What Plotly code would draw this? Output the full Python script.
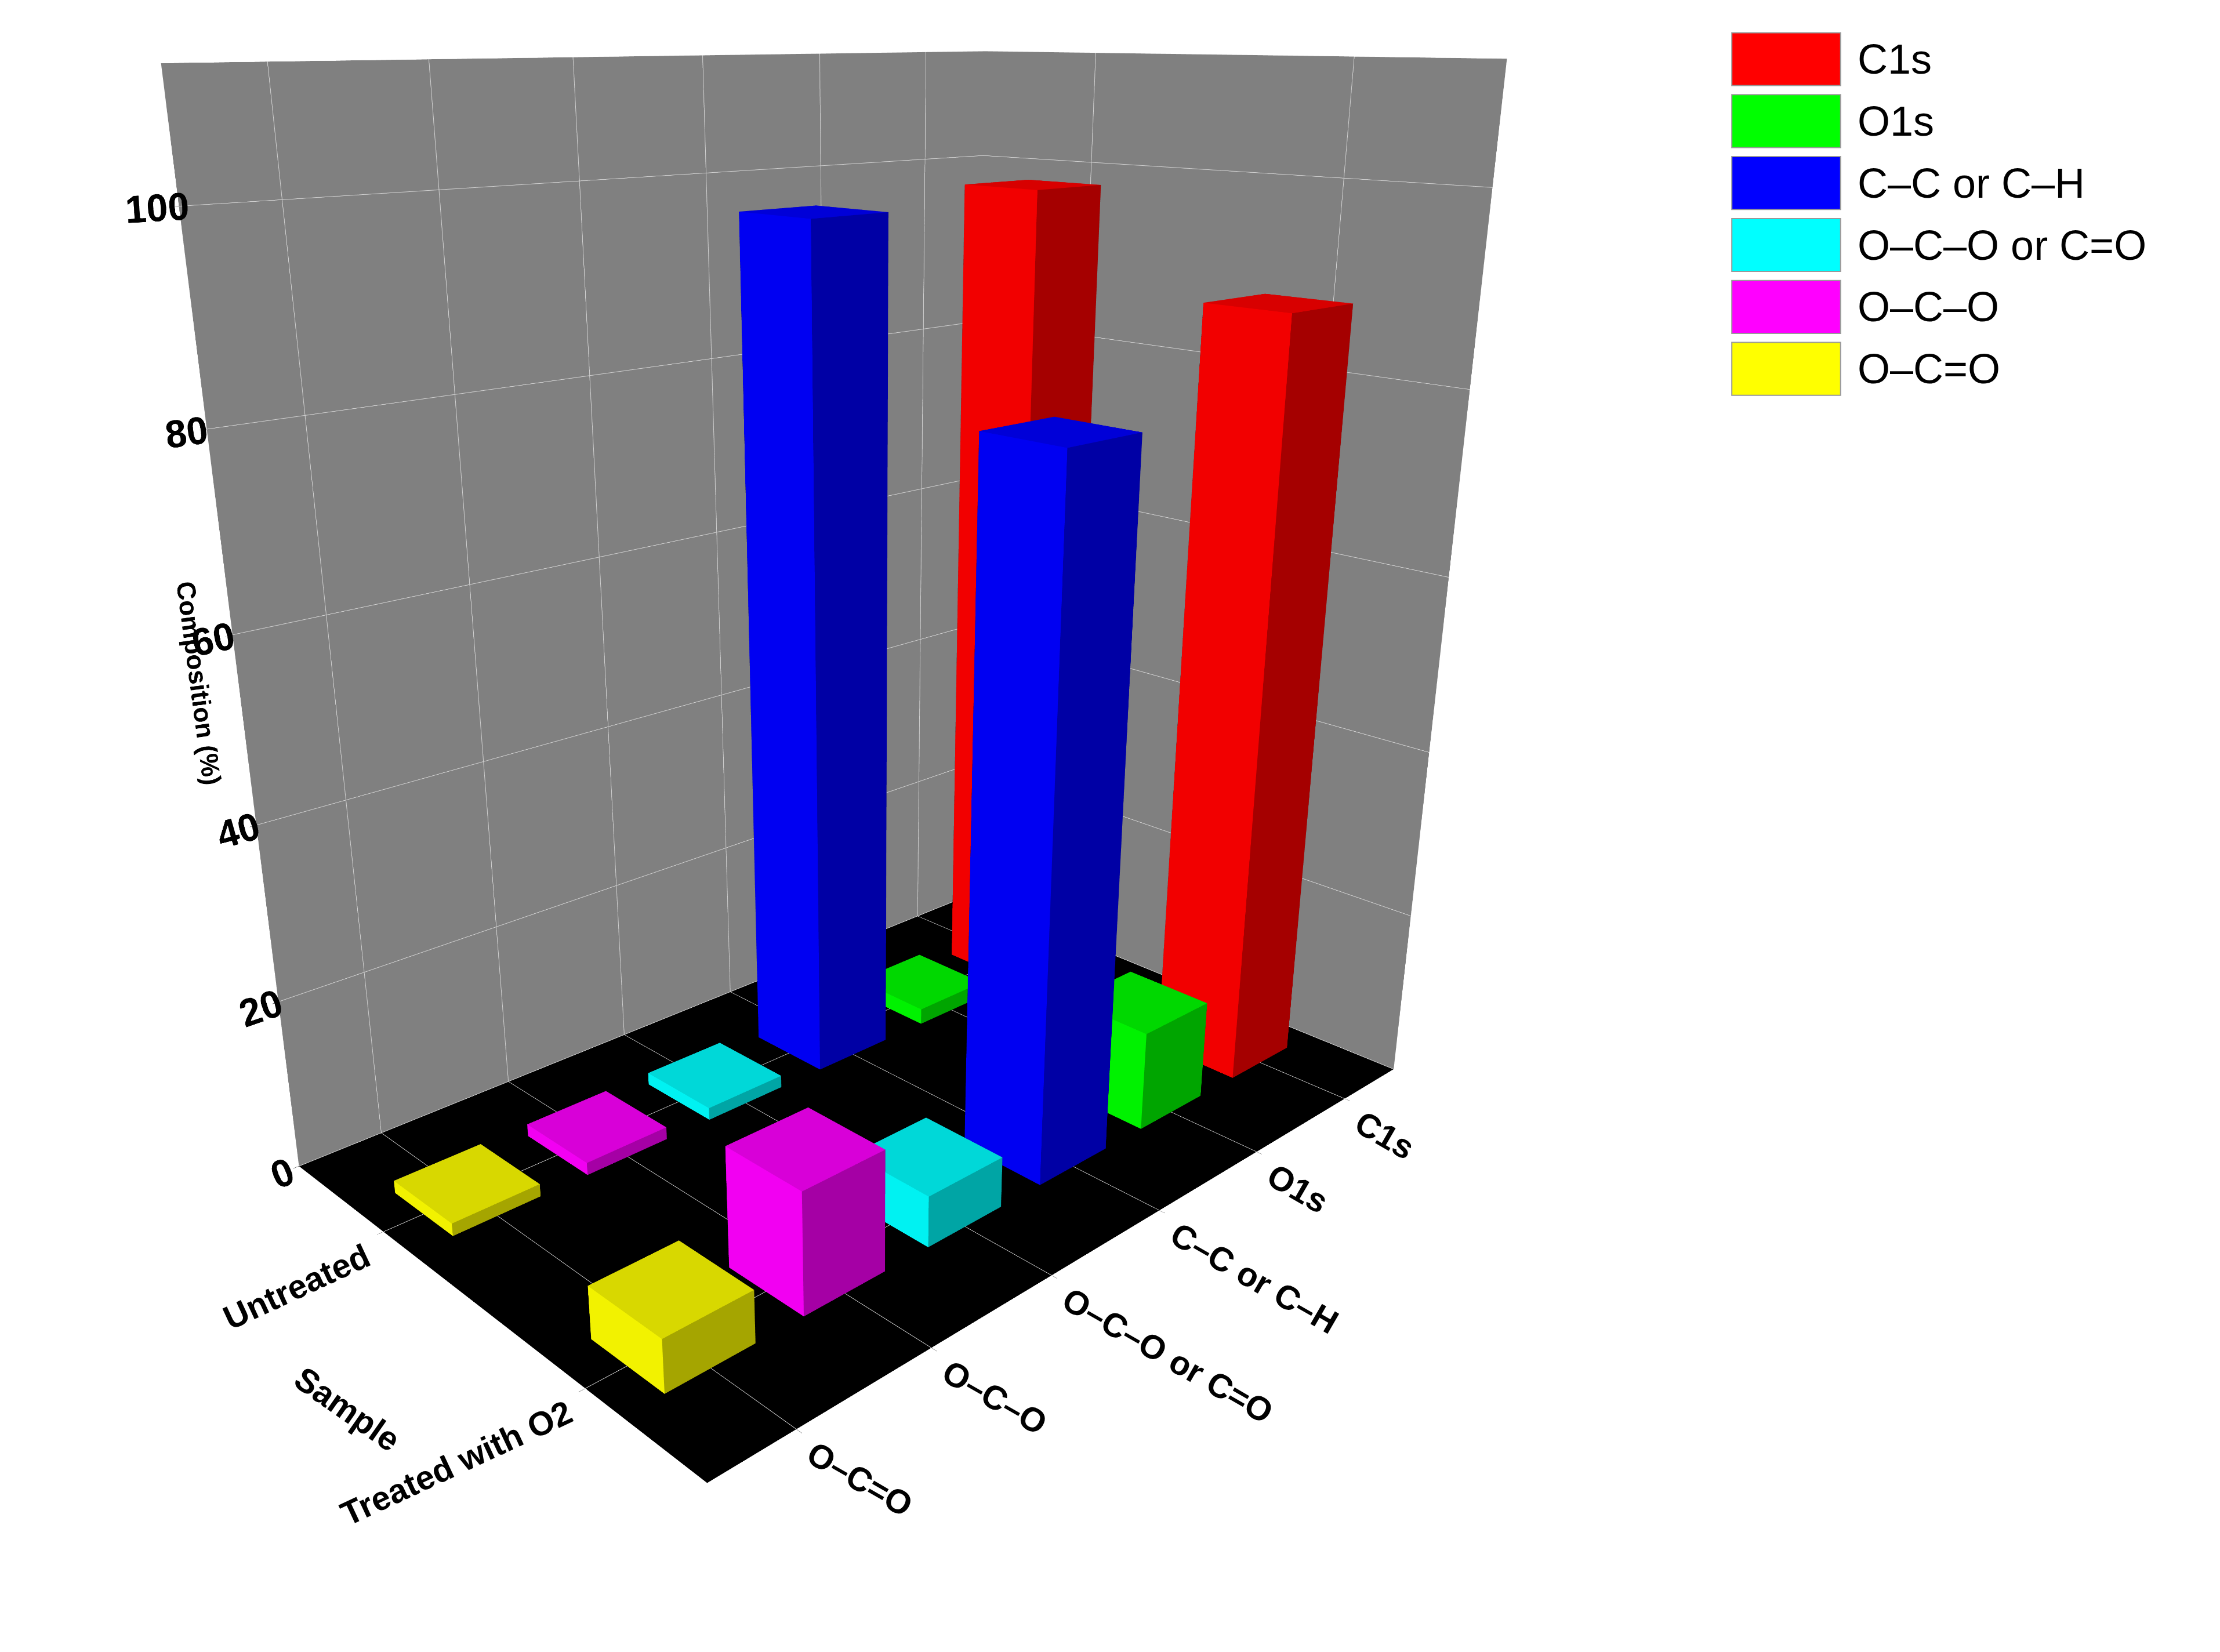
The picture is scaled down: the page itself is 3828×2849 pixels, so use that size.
import plotly.graph_objects as go

components = ["C1s", "O1s", "C–C or C–H", "O–C–O or C=O", "O–C–O", "O–C=O"]
samples = ["Untreated", "Treated with O2"]
colors = ["#FF0000", "#00FF00", "#0000FF", "#00FFFF", "#FF00FF", "#FFFF00"]
untreated = [98, 2, 97, 1.5, 1.5, 1.5]
treated = [88, 12, 79, 6, 14, 6]
values = [untreated, treated]

def shade(hexc, f):
    r, g, b = int(hexc[1:3], 16), int(hexc[3:5], 16), int(hexc[5:7], 16)
    return "rgb(%d,%d,%d)" % (r * f, g * f, b * f)

fig = go.Figure()
w = 0.32
for j, s in enumerate(samples):
    for i, c in enumerate(components):
        h = values[j][i]
        cx, cy = i, j * 2.0
        x0, x1, y0, y1 = cx - w, cx + w, cy - w, cy + w
        xs = [x0, x1, x1, x0, x0, x1, x1, x0]
        ys = [y0, y0, y1, y1, y0, y0, y1, y1]
        zs = [0, 0, 0, 0, h, h, h, h]
        I = [0, 0, 4, 4, 1, 1, 0, 0, 3, 3, 0, 0]
        J = [1, 2, 5, 6, 2, 6, 1, 5, 2, 6, 3, 7]
        K = [2, 3, 6, 7, 6, 5, 5, 4, 6, 7, 7, 4]
        base = colors[i]
        fc = [shade(base, 0.5)] * 2 + [shade(base, 0.85)] * 2 + [shade(base, 0.95)] * 2 + \
             [shade(base, 0.5)] * 2 + [shade(base, 0.65)] * 2 + [shade(base, 0.5)] * 2
        fig.add_trace(go.Mesh3d(x=xs, y=ys, z=zs, i=I, j=J, k=K, facecolor=fc,
                                flatshading=True, showlegend=False, hoverinfo="skip",
                                lighting=dict(ambient=1, diffuse=0, specular=0, fresnel=0)))

shapes, annos = [], []
lx0, lx1, ly, dy = 0.778, 0.827, 0.967, 0.0375
for k, (c, col) in enumerate(zip(components, colors)):
    y = ly - k * dy
    shapes.append(dict(type="rect", xref="paper", yref="paper", x0=lx0, x1=lx1,
                       y0=y - 0.016, y1=y + 0.016, fillcolor=col, line=dict(color="#999", width=2)))
    annos.append(dict(xref="paper", yref="paper", x=lx1 + 0.007, y=y, text=c, showarrow=False,
                      xanchor="left", yanchor="middle",
                      font=dict(family="Liberation Sans", size=72, color="black")))

lblfont = dict(family="Liberation Sans", size=58, color="black", weight="bold")
scene_annos = []
for i, c in enumerate(components):
    scene_annos.append(dict(x=i, y=3.0, z=0, text=c, showarrow=False, textangle=30,
                            xanchor="left", yanchor="top", xshift=5, yshift=-5, font=lblfont))
for j, s in enumerate(samples):
    scene_annos.append(dict(x=5.6, y=j * 2.0, z=0, text=s, showarrow=False, textangle=-25,
                            xanchor="right", yanchor="top", xshift=-10, yshift=-5, font=lblfont))
scene_annos.append(dict(x=5.6, y=1.0, z=0, text="Sample", showarrow=False, textangle=35,
                        xanchor="right", yanchor="top", xshift=-120, yshift=-90, font=lblfont))

tickfont = dict(family="Liberation Sans", size=28, color="black", weight="bold")
titlefont = dict(family="Liberation Sans", size=44, color="black", weight="bold")
fig.update_layout(
    width=3828, height=2849, paper_bgcolor="white",
    showlegend=False, shapes=shapes, annotations=annos,
    margin=dict(l=0, r=0, t=0, b=0),
    scene=dict(
        domain=dict(x=[0.0, 0.78], y=[0.0, 1.0]),
        annotations=scene_annos,
        xaxis=dict(title=dict(text=""), tickvals=list(range(6)), showticklabels=False,
                   range=[-0.6, 5.6], backgroundcolor="#808080", showbackground=True,
                   gridcolor="#d0d0d0", zeroline=False, ticks="outside", ticklen=10),
        yaxis=dict(title=dict(text=""), tickvals=[0, 2], showticklabels=False, range=[-1, 3],
                   backgroundcolor="#808080", showbackground=True,
                   gridcolor="#d0d0d0", zeroline=False, ticks="outside", ticklen=10),
        zaxis=dict(title=dict(text="Composition (%)", font=titlefont),
                   range=[0, 112], tickvals=[0, 20, 40, 60, 80, 100],
                   backgroundcolor="black", showbackground=True,
                   gridcolor="#d0d0d0", tickfont=tickfont, zeroline=False, ticks="outside", ticklen=10),
        aspectmode="manual", aspectratio=dict(x=1.5, y=1.0, z=1.6),
        camera=dict(eye=dict(x=1.95, y=2.05, z=0.85), center=dict(x=0, y=0, z=-0.3)),
    ),
)
fig.write_html("out.html")
